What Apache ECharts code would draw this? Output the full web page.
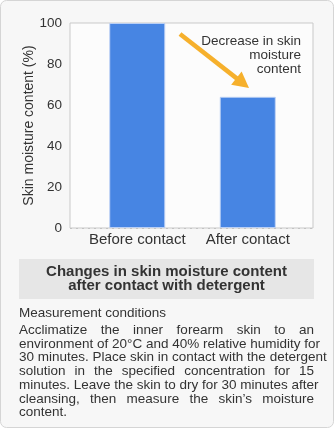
<!DOCTYPE html>
<html>
<head>
<meta charset="utf-8">
<script src="https://cdn.jsdelivr.net/npm/echarts@6/dist/echarts.min.js"></script>
<style>
  html, body { margin: 0; padding: 0; background: #ffffff; }
  #wrap { position: relative; width: 334px; height: 428px; }
  #chart { position: absolute; left: 0; top: 0; width: 334px; height: 428px; }
  #notes {
    position: absolute; left: 19px; top: 323px; width: 295px;
    font-family: "Liberation Sans", Arial, sans-serif; font-size: 13.5px;
    line-height: 13.7px; color: #333;
  }
  #notes span { display: block; text-align: justify; text-align-last: justify; white-space: nowrap; }
  #notes span.last { text-align-last: left; }
</style>
</head>
<body>
<div id="wrap">
  <div id="chart"></div>
  <div id="notes"></div>
</div>
<script>
// Skin moisture before / after detergent contact
const categories = ['Before contact', 'After contact'];
const moistureValues = [100, 64];
const yTicks = { min: 0, max: 100, interval: 20 };
const axisTitle = 'Skin moisture content (%)';
const annotationLines = ['Decrease in skin', 'moisture', 'content'];
const titleLines = ['Changes in skin moisture content', 'after contact with detergent'];
const conditionsHeading = 'Measurement conditions';
const conditionsLines = [
  'Acclimatize the inner forearm skin to an',
  'environment of 20\u00B0C and 40% relative humidity for',
  '30 minutes. Place skin in contact with the detergent',
  'solution in the specified concentration for 15',
  'minutes. Leave the skin to dry for 30 minutes after',
  'cleansing, then measure the skin\u2019s moisture',
  'content.'
];

const FONT = '"Liberation Sans", Arial, sans-serif';
const TEXT = '#333333';

// justified paragraph, one block per line
const notes = document.getElementById('notes');
conditionsLines.forEach((line, i) => {
  const s = document.createElement('span');
  s.textContent = line;
  if (i === conditionsLines.length - 1) s.className = 'last';
  notes.appendChild(s);
});

const chart = echarts.init(document.getElementById('chart'), null, { renderer: 'canvas' });

// arrow geometry for the annotation
const arrowStart = [180, 34];
const arrowTip = [249, 88];
const dx = arrowTip[0] - arrowStart[0], dy = arrowTip[1] - arrowStart[1];
const len = Math.hypot(dx, dy);
const ux = dx / len, uy = dy / len;
const headLen = 16, headHalf = 8.5;
const base = [arrowTip[0] - headLen * ux, arrowTip[1] - headLen * uy];
const ARROW = '#f6b02c';

chart.setOption({
  animation: false,
  textStyle: { fontFamily: FONT },
  grid: [
    { left: 70, top: 23, width: 243, height: 205, show: true,
      borderColor: '#c9c9c9', borderWidth: 1, backgroundColor: '#fcfcfc', z: 1 },
    { left: 82, top: 23, width: 221, height: 205 }
  ],
  xAxis: [
    { gridIndex: 0, type: 'value', show: false, min: 0, max: 1 },
    { gridIndex: 1, type: 'category', data: categories, boundaryGap: true,
      axisLine: { show: false }, axisTick: { show: false },
      axisLabel: { interval: 0, hideOverlap: false, fontSize: 15, color: TEXT, margin: 4, fontFamily: FONT } }
  ],
  yAxis: [
    { gridIndex: 0, type: 'value', min: yTicks.min, max: yTicks.max, interval: yTicks.interval,
      axisLine: { show: false }, axisTick: { show: false },
      axisLabel: { fontSize: 13.5, color: TEXT, margin: 8, fontFamily: FONT },
      splitLine: { show: true, lineStyle: { color: '#bdbdbd', type: [2, 4], width: 1 } },
      name: axisTitle, nameLocation: 'middle', nameRotate: 90, nameGap: 34, nameMoveOverlap: false,
      nameTextStyle: { fontSize: 14, color: TEXT, fontFamily: FONT } },
    { gridIndex: 1, type: 'value', min: yTicks.min, max: yTicks.max, show: false }
  ],
  series: [
    { type: 'bar', xAxisIndex: 1, yAxisIndex: 1, data: moistureValues, barWidth: 56, z: 3,
      itemStyle: { color: '#4785e3', borderColor: 'rgba(190,210,245,0.9)', borderWidth: 1 } }
  ],
  graphic: [
    { type: 'rect', z: -10, shape: { x: 0.5, y: 0.5, width: 333, height: 427, r: 6 },
      style: { fill: '#f7f7f7', stroke: '#d5d5d5', lineWidth: 1 } },
    { type: 'line', z: 50,
      shape: { x1: arrowStart[0], y1: arrowStart[1], x2: base[0] + 2 * ux, y2: base[1] + 2 * uy },
      style: { stroke: ARROW, lineWidth: 4.5 } },
    { type: 'polygon', z: 50,
      shape: { points: [arrowTip,
        [base[0] - headHalf * uy, base[1] + headHalf * ux],
        [base[0] + headHalf * uy, base[1] - headHalf * ux]] },
      style: { fill: ARROW } },
    { type: 'text', z: 50, x: 301, y: 34,
      style: { text: annotationLines.join('\n'), align: 'right', verticalAlign: 'top',
        font: '13.5px ' + FONT, lineHeight: 14, fill: TEXT } },
    { type: 'rect', z: 5, shape: { x: 19, y: 259, width: 295, height: 40 },
      style: { fill: '#e6e6e6' } },
    { type: 'text', z: 6, x: 166.5, y: 279,
      style: { text: titleLines.join('\n'), align: 'center', verticalAlign: 'middle',
        font: 'bold 15px ' + FONT, lineHeight: 14.5, fill: TEXT } },
    { type: 'text', z: 6, x: 19, y: 313,
      style: { text: conditionsHeading, align: 'left', verticalAlign: 'middle',
        font: '13.5px ' + FONT, fill: TEXT } }
  ]
});
</script>
</body>
</html>
